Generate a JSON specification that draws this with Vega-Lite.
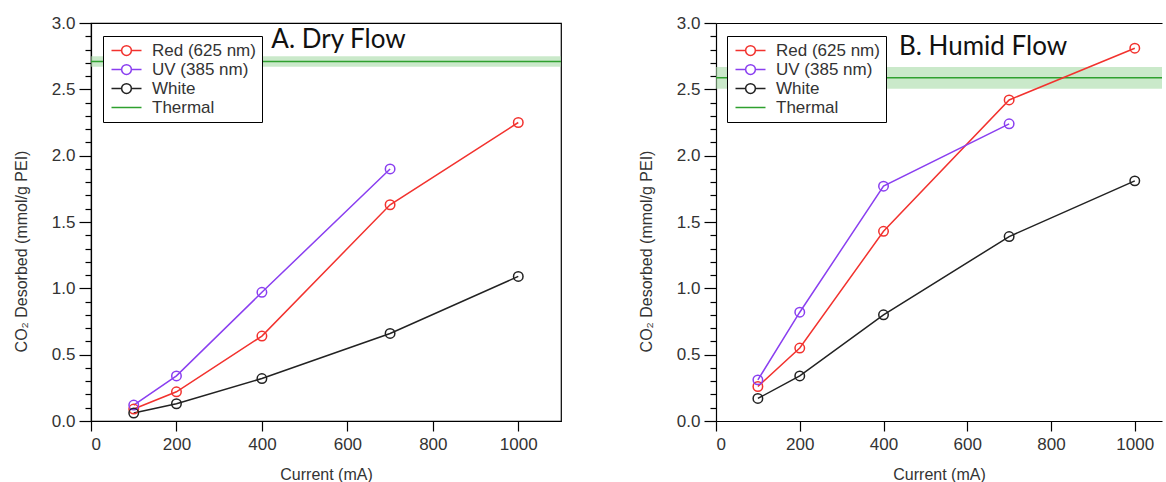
{
  "$schema": "https://vega.github.io/schema/vega-lite/v6.json",
  "padding": {"left": 12, "top": 13, "right": 0, "bottom": 0},
  "background": "white",
  "datasets": {
    "main": [
      {"panel": "A", "series": "Red (625 nm)", "current": 100, "co2": 0.09},
      {"panel": "A", "series": "Red (625 nm)", "current": 200, "co2": 0.22},
      {"panel": "A", "series": "Red (625 nm)", "current": 400, "co2": 0.64},
      {"panel": "A", "series": "Red (625 nm)", "current": 700, "co2": 1.63},
      {"panel": "A", "series": "Red (625 nm)", "current": 1000, "co2": 2.25},
      {"panel": "A", "series": "UV (385 nm)", "current": 100, "co2": 0.12},
      {"panel": "A", "series": "UV (385 nm)", "current": 200, "co2": 0.34},
      {"panel": "A", "series": "UV (385 nm)", "current": 400, "co2": 0.97},
      {"panel": "A", "series": "UV (385 nm)", "current": 700, "co2": 1.9},
      {"panel": "A", "series": "White", "current": 100, "co2": 0.06},
      {"panel": "A", "series": "White", "current": 200, "co2": 0.13},
      {"panel": "A", "series": "White", "current": 400, "co2": 0.32},
      {"panel": "A", "series": "White", "current": 700, "co2": 0.66},
      {"panel": "A", "series": "White", "current": 1000, "co2": 1.09},
      {"panel": "B", "series": "Red (625 nm)", "current": 100, "co2": 0.26},
      {"panel": "B", "series": "Red (625 nm)", "current": 200, "co2": 0.55},
      {"panel": "B", "series": "Red (625 nm)", "current": 400, "co2": 1.43},
      {"panel": "B", "series": "Red (625 nm)", "current": 700, "co2": 2.42},
      {"panel": "B", "series": "Red (625 nm)", "current": 1000, "co2": 2.81},
      {"panel": "B", "series": "UV (385 nm)", "current": 100, "co2": 0.31},
      {"panel": "B", "series": "UV (385 nm)", "current": 200, "co2": 0.82},
      {"panel": "B", "series": "UV (385 nm)", "current": 400, "co2": 1.77},
      {"panel": "B", "series": "UV (385 nm)", "current": 700, "co2": 2.24},
      {"panel": "B", "series": "White", "current": 100, "co2": 0.17},
      {"panel": "B", "series": "White", "current": 200, "co2": 0.34},
      {"panel": "B", "series": "White", "current": 400, "co2": 0.8},
      {"panel": "B", "series": "White", "current": 700, "co2": 1.39},
      {"panel": "B", "series": "White", "current": 1000, "co2": 1.81}
    ],
    "thermal": [
      {"panel": "A", "series": "Thermal", "co2": 2.71, "lo": 2.67, "hi": 2.75},
      {"panel": "B", "series": "Thermal", "co2": 2.588, "lo": 2.505, "hi": 2.668}
    ],
    "titles": [
      {"panel": "A", "label": "A. Dry Flow", "x": 422, "y": 2.81},
      {"panel": "B", "label": "B. Humid Flow", "x": 437, "y": 2.757}
    ]
  },
  "resolve": {"legend": {"color": "independent"}},
  "spacing": 75,
  "hconcat": [
    {
      "width": 470,
      "height": 398,
      "view": {"stroke": "#000", "strokeWidth": 1.2},
      "layer": [
        {
          "data": {"name": "thermal"},
          "transform": [{"filter": "datum.panel === 'A'"}],
          "mark": {"type": "rect", "color": "#a6dba6", "opacity": 0.6},
          "encoding": {
            "y": {"field": "lo", "type": "quantitative", "scale": {"domain": [0, 3], "nice": false, "zero": false},
              "axis": {"values": [0,0.1,0.2,0.3,0.4,0.5,0.6,0.7,0.8,0.9,1,1.1,1.2,1.3,1.4,1.5,1.6,1.7,1.8,1.9,2,2.1,2.2,2.3,2.4,2.5,2.6,2.7,2.8,2.9,3],
                "tickCount": 60,
                "labelExpr": "round(datum.value*10) % 5 === 0 ? format(datum.value, '.1f') : ''",
                "labelFontSize": {"condition": {"test": "round(datum.value*10) % 5 !== 0", "value": 0}, "value": 17},
                "labelOverlap": false, "labelBound": false, "labelPadding": 4,
                "tickSize": {"condition": {"test": "round(datum.value*10) % 5 === 0", "value": 12}, "value": 6},
                "title": "CO₂ Desorbed (mmol/g PEI)", "titlePadding": 22, "titleY": 228}},
            "y2": {"field": "hi"}
          }
        },
        {
          "data": {"name": "thermal"},
          "transform": [{"filter": "datum.panel === 'A'"}],
          "mark": {"type": "rule", "strokeWidth": 1.5},
          "encoding": {
            "y": {"field": "co2", "type": "quantitative"},
            "color": {"field": "series", "type": "nominal",
              "scale": {"domain": ["Red (625 nm)", "UV (385 nm)", "White", "Thermal"], "range": ["#f2322e", "#8a3ff0", "#222222", "#2ea02e"]},
              "legend": {"orient": "none", "legendX": 12, "legendY": 13, "title": null, "labelFontSize": 17, "labelColor": "#333",
                "symbolSize": 225, "symbolOffset": 9, "labelOffset": 17, "padding": 6, "rowPadding": 1, "strokeColor": "#000", "fillColor": "#fff",
                "symbolStrokeWidth": 1.5, "cornerRadius": 0,
                "encode": {"symbols": {"update": {"shape": {"signal": "datum.value === 'Thermal' ? 'M-2,0H2' : 'M-2,0H-0.65M0.65,0H2M-0.65,0A0.65,0.65 0 1,0 0.65,0A0.65,0.65 0 1,0 -0.65,0'"}, "fill": {"value": "transparent"}}}}}
            }
          }
        },
        {
          "data": {"name": "main"},
          "transform": [{"filter": "datum.panel === 'A'"}],
          "mark": {"type": "line", "strokeWidth": 1.5},
          "encoding": {
            "x": {"field": "current", "type": "quantitative", "scale": {"domain": [0, 1100], "nice": false},
              "axis": {"values": [0, 200, 400, 600, 800, 1000], "tickCount": 20, "format": "d", "tickSize": 10, "labelPadding": 5, "title": "Current (mA)", "titlePadding": 14}},
            "y": {"field": "co2", "type": "quantitative"},
            "color": {"field": "series", "type": "nominal"}
          }
        },
        {
          "data": {"name": "main"},
          "transform": [{"filter": "datum.panel === 'A'"}],
          "mark": {"type": "point", "shape": "circle", "filled": false, "size": 90, "strokeWidth": 1.5, "opacity": 1},
          "encoding": {
            "x": {"field": "current", "type": "quantitative"},
            "y": {"field": "co2", "type": "quantitative"},
            "color": {"field": "series", "type": "nominal"}
          }
        },
        {
          "data": {"name": "titles"},
          "transform": [{"filter": "datum.panel === 'A'"}],
          "mark": {"type": "text", "font": "Lato", "fontSize": 26, "align": "left", "baseline": "alphabetic", "color": "#111"},
          "encoding": {
            "x": {"field": "x", "type": "quantitative"},
            "y": {"field": "y", "type": "quantitative"},
            "text": {"field": "label"}
          }
        }
      ]
    },
    {
      "width": 446,
      "height": 398,
      "resolve": {"axis": {"x": "independent"}},
      "layer": [
        {
          "data": {"name": "thermal"},
          "transform": [{"filter": "datum.panel === 'B'"}],
          "mark": {"type": "rect", "color": "#a6dba6", "opacity": 0.6},
          "encoding": {
            "y": {"field": "lo", "type": "quantitative", "scale": {"domain": [0, 3], "nice": false, "zero": false},
              "axis": {"values": [0,0.1,0.2,0.3,0.4,0.5,0.6,0.7,0.8,0.9,1,1.1,1.2,1.3,1.4,1.5,1.6,1.7,1.8,1.9,2,2.1,2.2,2.3,2.4,2.5,2.6,2.7,2.8,2.9,3],
                "tickCount": 60,
                "labelExpr": "round(datum.value*10) % 5 === 0 ? format(datum.value, '.1f') : ''",
                "labelFontSize": {"condition": {"test": "round(datum.value*10) % 5 !== 0", "value": 0}, "value": 17},
                "labelOverlap": false, "labelBound": false, "labelPadding": 4,
                "tickSize": {"condition": {"test": "round(datum.value*10) % 5 === 0", "value": 12}, "value": 6},
                "title": "CO₂ Desorbed (mmol/g PEI)", "titlePadding": 22, "titleY": 228}},
            "y2": {"field": "hi"}
          }
        },
        {
          "data": {"name": "thermal"},
          "transform": [{"filter": "datum.panel === 'B'"}],
          "mark": {"type": "rule", "strokeWidth": 1.5},
          "encoding": {
            "y": {"field": "co2", "type": "quantitative"},
            "color": {"field": "series", "type": "nominal",
              "legend": {"orient": "none", "legendX": 11, "legendY": 13, "title": null, "labelFontSize": 17, "labelColor": "#333",
                "symbolSize": 225, "symbolOffset": 9, "labelOffset": 17, "padding": 6, "rowPadding": 1, "strokeColor": "#000", "fillColor": "#fff",
                "symbolStrokeWidth": 1.5, "cornerRadius": 0,
                "encode": {"symbols": {"update": {"shape": {"signal": "datum.value === 'Thermal' ? 'M-2,0H2' : 'M-2,0H-0.65M0.65,0H2M-0.65,0A0.65,0.65 0 1,0 0.65,0A0.65,0.65 0 1,0 -0.65,0'"}, "fill": {"value": "transparent"}}}}}
            }
          }
        },
        {
          "data": {"name": "main"},
          "transform": [{"filter": "datum.panel === 'B'"}],
          "mark": {"type": "line", "strokeWidth": 1.5},
          "encoding": {
            "x": {"field": "current", "type": "quantitative", "scale": {"domain": [0, 1065], "nice": false},
              "axis": {"values": [0, 200, 400, 600, 800, 1000], "tickCount": 20, "format": "d", "tickSize": 10, "labelPadding": 5, "title": "Current (mA)", "titlePadding": 14}},
            "y": {"field": "co2", "type": "quantitative"},
            "color": {"field": "series", "type": "nominal"}
          }
        },
        {
          "data": {"name": "main"},
          "transform": [{"filter": "datum.panel === 'B'"}],
          "mark": {"type": "point", "shape": "circle", "filled": false, "size": 90, "strokeWidth": 1.5, "opacity": 1},
          "encoding": {
            "x": {"field": "current", "type": "quantitative", "axis": null},
            "y": {"field": "co2", "type": "quantitative"},
            "color": {"field": "series", "type": "nominal"}
          }
        },
        {
          "data": {"name": "titles"},
          "transform": [{"filter": "datum.panel === 'B'"}],
          "mark": {"type": "text", "font": "Lato", "fontSize": 26, "align": "left", "baseline": "alphabetic", "color": "#111"},
          "encoding": {
            "x": {"field": "x", "type": "quantitative", "axis": {"orient": "top", "labels": false, "ticks": false, "title": null, "domain": true}},
            "y": {"field": "y", "type": "quantitative"},
            "text": {"field": "label"}
          }
        }
      ]
    }
  ],
  "config": {
    "font": "Liberation Sans",
    "view": {"stroke": null},
    "axis": {"labelFontSize": 17, "titleFontSize": 16, "labelColor": "#333", "titleColor": "#333", "titleFontWeight": "normal", "labelOverlap": false,
      "domainColor": "#000", "tickColor": "#000", "domainWidth": 1.2, "tickWidth": 1.2, "grid": false, "labelFont": "Liberation Sans", "titleFont": "Liberation Sans"},
    "legend": {"labelFont": "Liberation Sans"}
  }
}
